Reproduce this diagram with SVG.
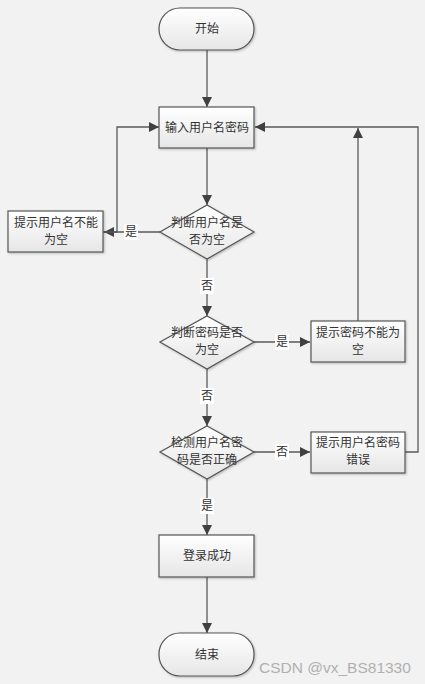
<svg xmlns="http://www.w3.org/2000/svg" width="425" height="684" viewBox="0 0 425 684">
<defs>
<linearGradient id="g" x1="0" y1="0" x2="0" y2="1">
<stop offset="0" stop-color="#ffffff"/>
<stop offset="1" stop-color="#e6e6e6"/>
</linearGradient>
<marker id="arr" viewBox="0 0 10 10" refX="10" refY="5" markerWidth="10" markerHeight="10" markerUnits="userSpaceOnUse" orient="auto">
<path d="M0,0 L10,5 L0,10 Z" fill="#404040"/>
</marker>
<filter id="sh" x="-10%" y="-10%" width="130%" height="140%">
<feDropShadow dx="1" dy="1" stdDeviation="0.8" flood-color="#000" flood-opacity="0.25"/>
</filter>
</defs>
<style>
.shape{fill:url(#g);stroke:#555;stroke-width:1.2;filter:url(#sh)}
.t{font-family:"Noto Sans CJK SC","Noto Sans CJK JP",sans-serif;font-size:12px;fill:#333;text-anchor:middle}
.c{fill:none;stroke:#595959;stroke-width:1.3}
.lb{fill:#fff}
</style>
<rect width="425" height="684" fill="#f2f2f2"/>
<g id="connectors">
<path class="c" d="M207,50 V107" marker-end="url(#arr)"/>
<path class="c" d="M207,148 V205" marker-end="url(#arr)"/>
<path class="c" d="M160,232 H104" marker-end="url(#arr)"/>
<path class="c" d="M103,232 H117 V127 H159" marker-end="url(#arr)"/>
<path class="c" d="M207,259 V316" marker-end="url(#arr)"/>
<path class="c" d="M254,342 H310" marker-end="url(#arr)"/>
<path class="c" d="M358,321 V128" marker-end="url(#arr)"/>
<path class="c" d="M207,369 V426" marker-end="url(#arr)"/>
<path class="c" d="M254,452 H310" marker-end="url(#arr)"/>
<path class="c" d="M405,452 H418 V127 H255" marker-end="url(#arr)"/>
<path class="c" d="M207,479 V535" marker-end="url(#arr)"/>
<path class="c" d="M207,577 V633" marker-end="url(#arr)"/>
<rect class="lb" x="124" y="224" width="14" height="16"/>
<text class="t" x="131" y="236">是</text>
<rect class="lb" x="200" y="278" width="14" height="16"/>
<text class="t" x="207" y="290">否</text>
<rect class="lb" x="275" y="334" width="14" height="16"/>
<text class="t" x="282" y="346">是</text>
<rect class="lb" x="200" y="388" width="14" height="16"/>
<text class="t" x="207" y="400">否</text>
<rect class="lb" x="275" y="444" width="14" height="16"/>
<text class="t" x="282" y="456">否</text>
<rect class="lb" x="200" y="498" width="14" height="16"/>
<text class="t" x="207" y="510">是</text>
</g>
<g id="start">
<rect class="shape" x="159" y="8" width="95" height="42" rx="21" ry="21"/>
<text class="t" x="207" y="33">开始</text>
</g>
<g id="input">
<rect class="shape" x="159" y="107" width="95" height="41"/>
<text class="t" x="207" y="132">输入用户名密码</text>
</g>
<g id="check-user">
<polygon class="shape" points="207,205 254,232 207,259 160,232"/>
<text class="t" x="207" y="227">判断用户名是</text>
<text class="t" x="207" y="244">否为空</text>
</g>
<g id="user-empty">
<rect class="shape" x="8" y="211" width="95" height="41"/>
<text class="t" x="56" y="227">提示用户名不能</text>
<text class="t" x="56" y="244">为空</text>
</g>
<g id="check-pwd">
<polygon class="shape" points="207,316 254,342 207,369 160,342"/>
<text class="t" x="207" y="337">判断密码是否</text>
<text class="t" x="207" y="354">为空</text>
</g>
<g id="pwd-empty">
<rect class="shape" x="311" y="321" width="94" height="41"/>
<text class="t" x="358" y="337">提示密码不能为</text>
<text class="t" x="358" y="354">空</text>
</g>
<g id="check-correct">
<polygon class="shape" points="207,426 254,452 207,479 160,452"/>
<text class="t" x="207" y="447">检测用户名密</text>
<text class="t" x="207" y="464">码是否正确</text>
</g>
<g id="wrong">
<rect class="shape" x="311" y="432" width="94" height="41"/>
<text class="t" x="358" y="447">提示用户名密码</text>
<text class="t" x="358" y="464">错误</text>
</g>
<g id="success">
<rect class="shape" x="159" y="535" width="95" height="42"/>
<text class="t" x="207" y="560">登录成功</text>
</g>
<g id="end">
<rect class="shape" x="159" y="633" width="95" height="43" rx="21" ry="21"/>
<text class="t" x="207" y="659">结束</text>
</g>
<text x="259" y="673" font-family="Liberation Sans, Arial, sans-serif" font-size="15.5" fill="#b0b0b0">CSDN @vx_BS81330</text>
</svg>
